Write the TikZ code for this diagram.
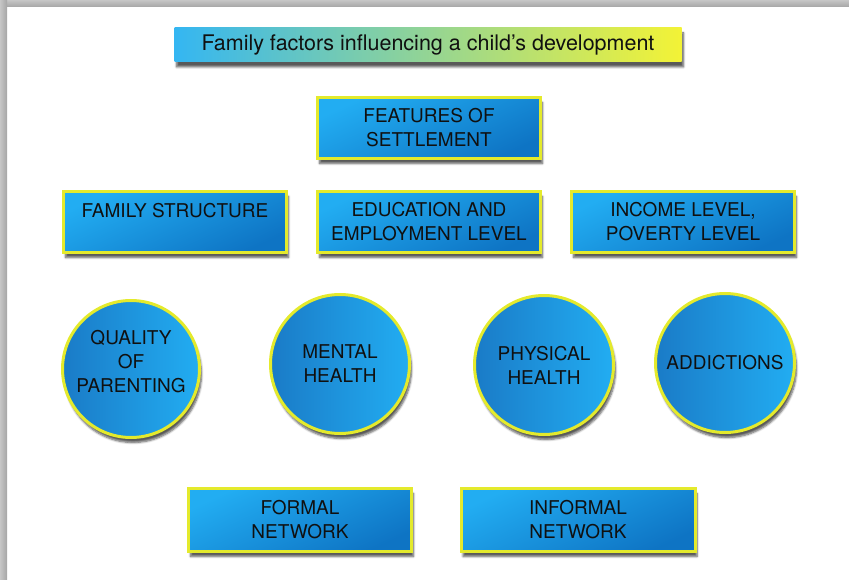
\documentclass[tikz,border=0pt]{standalone}
\usepackage{fontspec}
\setmainfont{TeX Gyre Heros}
\usetikzlibrary{positioning,shadows.blur}

\definecolor{boxlight}{HTML}{22ADF2}
\definecolor{boxdark}{HTML}{0E74C4}
\definecolor{rimyellow}{HTML}{E4EA2C}
\definecolor{titleleft}{HTML}{34B6F2}
\definecolor{titlemid}{HTML}{9AD9AC}
\definecolor{titleright}{HTML}{F3F336}
\definecolor{inktext}{HTML}{101010}

\tikzset{
  softshadow/.style={blur shadow={shadow xshift=2pt, shadow yshift=-5pt, shadow blur steps=6, shadow opacity=65}},
  factor/.style={draw=rimyellow, line width=3pt, top color=boxlight, bottom color=boxdark, shading angle=25,
    minimum width=223pt, minimum height=61pt, align=center, text=inktext,
    font=\fontsize{19}{24}\selectfont, softshadow},
  factorball/.style={circle, draw=rimyellow, line width=3pt, left color=boxdark!95, right color=boxlight,
    minimum size=137pt, inner sep=0pt, align=center, text=inktext,
    font=\fontsize{19}{24}\selectfont, softshadow},
}

\begin{document}
\begin{tikzpicture}[x=1pt, y=-1pt, node distance=254pt]
    \useasboundingbox (0,0) rectangle (849,580);
    % frame edge
    \shade[top color=gray!45, bottom color=gray!70] (0,0) rectangle (849,7);
    \shade[left color=gray!45, right color=gray!70] (0,0) rectangle (7,580);

    \node (title) [left color=titleleft, middle color=titlemid, right color=titleright, minimum width=507pt,
        minimum height=34pt, text=inktext, font=\fontsize{21.5}{24}\selectfont, softshadow] at (428,45)
        {Family factors influencing a child’s development};

    \node (settle) [factor] at (429,128) {FEATURES OF\\SETTLEMENT};

    \node (famstruct) [factor] at (175,222) {FAMILY STRUCTURE\\\mbox{}};
    \node (eduemp) [factor, right of=famstruct] {EDUCATION AND\\EMPLOYMENT LEVEL};
    \node (income) [factor, right of=eduemp] {INCOME LEVEL,\\POVERTY LEVEL};

    % text sits a little above the middle of this one
    \node (parenting) [factorball, text depth=15pt] at (131,369) {QUALITY\\OF\\PARENTING};
    \node (mental) [factorball, minimum size=139pt] at (340,364) {MENTAL\\HEALTH};
    \node (physical) [factorball, minimum size=139pt] at (544,365) {PHYSICAL\\HEALTH};
    \node (addict) [factorball, minimum size=139pt] at (725,363) {ADDICTIONS};

    \node (formal) [factor, minimum height=63pt] at (300,520) {FORMAL\\NETWORK};
    \node (informal) [factor, minimum width=234pt, minimum height=63pt] at (578,520) {INFORMAL\\NETWORK};
\end{tikzpicture}
\end{document}
